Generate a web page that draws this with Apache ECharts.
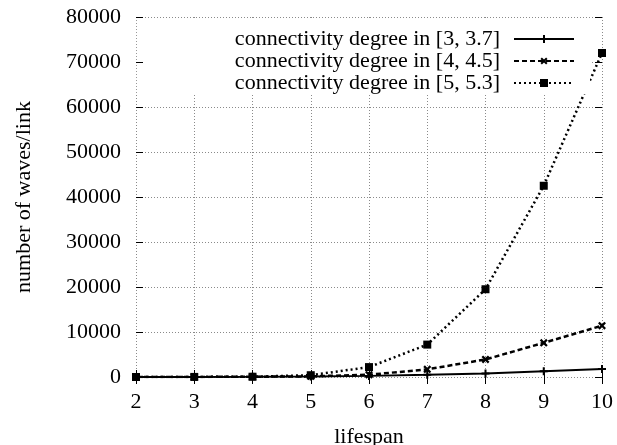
<!DOCTYPE html>
<html>
<head>
<meta charset="utf-8">
<script src="https://cdn.jsdelivr.net/npm/echarts@6/dist/echarts.min.js"></script>
<style>html,body{margin:0;padding:0;background:#fff;}#c{width:617px;height:445px;}</style>
</head>
<body>
<div id="c"></div>
<script>
const lifespan = [2, 3, 4, 5, 6, 7, 8, 9, 10];
const seriesNames = [
  'connectivity degree in [3, 3.7]',
  'connectivity degree in [4, 4.5]',
  'connectivity degree in [5, 5.3]'
];
const deg3 = [5, 20, 50, 120, 250, 500, 800, 1300, 1800];
const deg4 = [5, 20, 50, 150, 500, 1700, 3900, 7600, 11400];
const deg5 = [5, 20, 60, 400, 2200, 7200, 19500, 42500, 72000];
const yTicks = [0, 10000, 20000, 30000, 40000, 50000, 60000, 70000, 80000];

const FONT = 'Liberation Serif';
const FS = 22;
const pairs = (ys) => lifespan.map((x, i) => [x, ys[i]]);
const plusPath = 'path://M3,0h2v3h3v2h-3v3h-2v-3h-3v-2h3z';

const chart = echarts.init(document.getElementById('c'), null, {renderer: 'canvas'});
const gridLine = {show: true, lineStyle: {color: '#8a8a8a', type: [1, 2], width: 1}};
const tickStyle = {show: true, inside: true, length: 7, lineStyle: {color: '#000', width: 1}};
const yMin = yTicks[0], yMax = yTicks[yTicks.length - 1], yInt = yTicks[1] - yTicks[0];
const tickOnlyY = (pos, z) => ({
  type: 'value', min: yMin, max: yMax, interval: yInt, position: pos, z: z,
  axisLine: {show: false}, axisTick: tickStyle, splitLine: {show: false}, axisLabel: {show: false}
});

chart.setOption({
  animation: false,
  backgroundColor: '#fff',
  grid: {left: 136, right: 15, top: 17, bottom: 68, containLabel: false, outerBoundsMode: 'none'},
  xAxis: [{
    type: 'value', min: 2, max: 10, interval: 1, position: 'bottom',
    name: 'lifespan', nameLocation: 'middle', nameGap: 49,
    nameTextStyle: {fontFamily: FONT, fontSize: FS, color: '#000'},
    axisLine: {show: false}, axisTick: tickStyle, splitLine: gridLine,
    axisLabel: {fontFamily: FONT, fontSize: FS, color: '#000', margin: 14}
  }, {
    type: 'value', min: 2, max: 10, interval: 1, position: 'top',
    axisLine: {show: false}, axisTick: tickStyle, splitLine: {show: false},
    axisLabel: {show: false}
  }],
  yAxis: [{
    type: 'value', min: yMin, max: yMax, interval: yInt,
    position: 'left', z: 0,
    name: 'number of waves/link', nameLocation: 'middle', nameGap: 101, nameRotate: 90,
    nameTextStyle: {fontFamily: FONT, fontSize: FS, color: '#000'},
    axisLine: {show: false}, axisTick: {show: false}, splitLine: gridLine,
    axisLabel: {fontFamily: FONT, fontSize: FS, color: '#000', margin: 15,
      formatter: (v) => String(v)}
  }, tickOnlyY('right', 0), tickOnlyY('left', 10)],
  legend: {
    orient: 'vertical', right: 27, top: 18, align: 'right',
    itemWidth: 60, itemHeight: 10, itemGap: 0,
    backgroundColor: '#fff', padding: [10, 15, 0, 98],
    textStyle: {fontFamily: FONT, fontSize: FS, lineHeight: 22, color: '#000', padding: [0, 9, 0, 0]},
    data: seriesNames
  },
  series: [{
    name: seriesNames[0], type: 'line', data: pairs(deg3),
    symbol: plusPath, symbolSize: 8,
    lineStyle: {color: '#000', width: 2, type: 'solid'},
    itemStyle: {color: '#000'}, z: 3
  }, {
    name: seriesNames[1], type: 'line', data: pairs(deg4),
    symbol: plusPath, symbolSize: 9, symbolRotate: 45,
    lineStyle: {color: '#000', width: 2.5, type: [5, 3]},
    itemStyle: {color: '#000'}, z: 3
  }, {
    name: seriesNames[2], type: 'line', data: pairs(deg5),
    symbol: 'rect', symbolSize: 8,
    lineStyle: {color: '#000', width: 2.5, type: [2, 3]},
    itemStyle: {color: '#000'}, z: 3
  }]
});
</script>
</body>
</html>
